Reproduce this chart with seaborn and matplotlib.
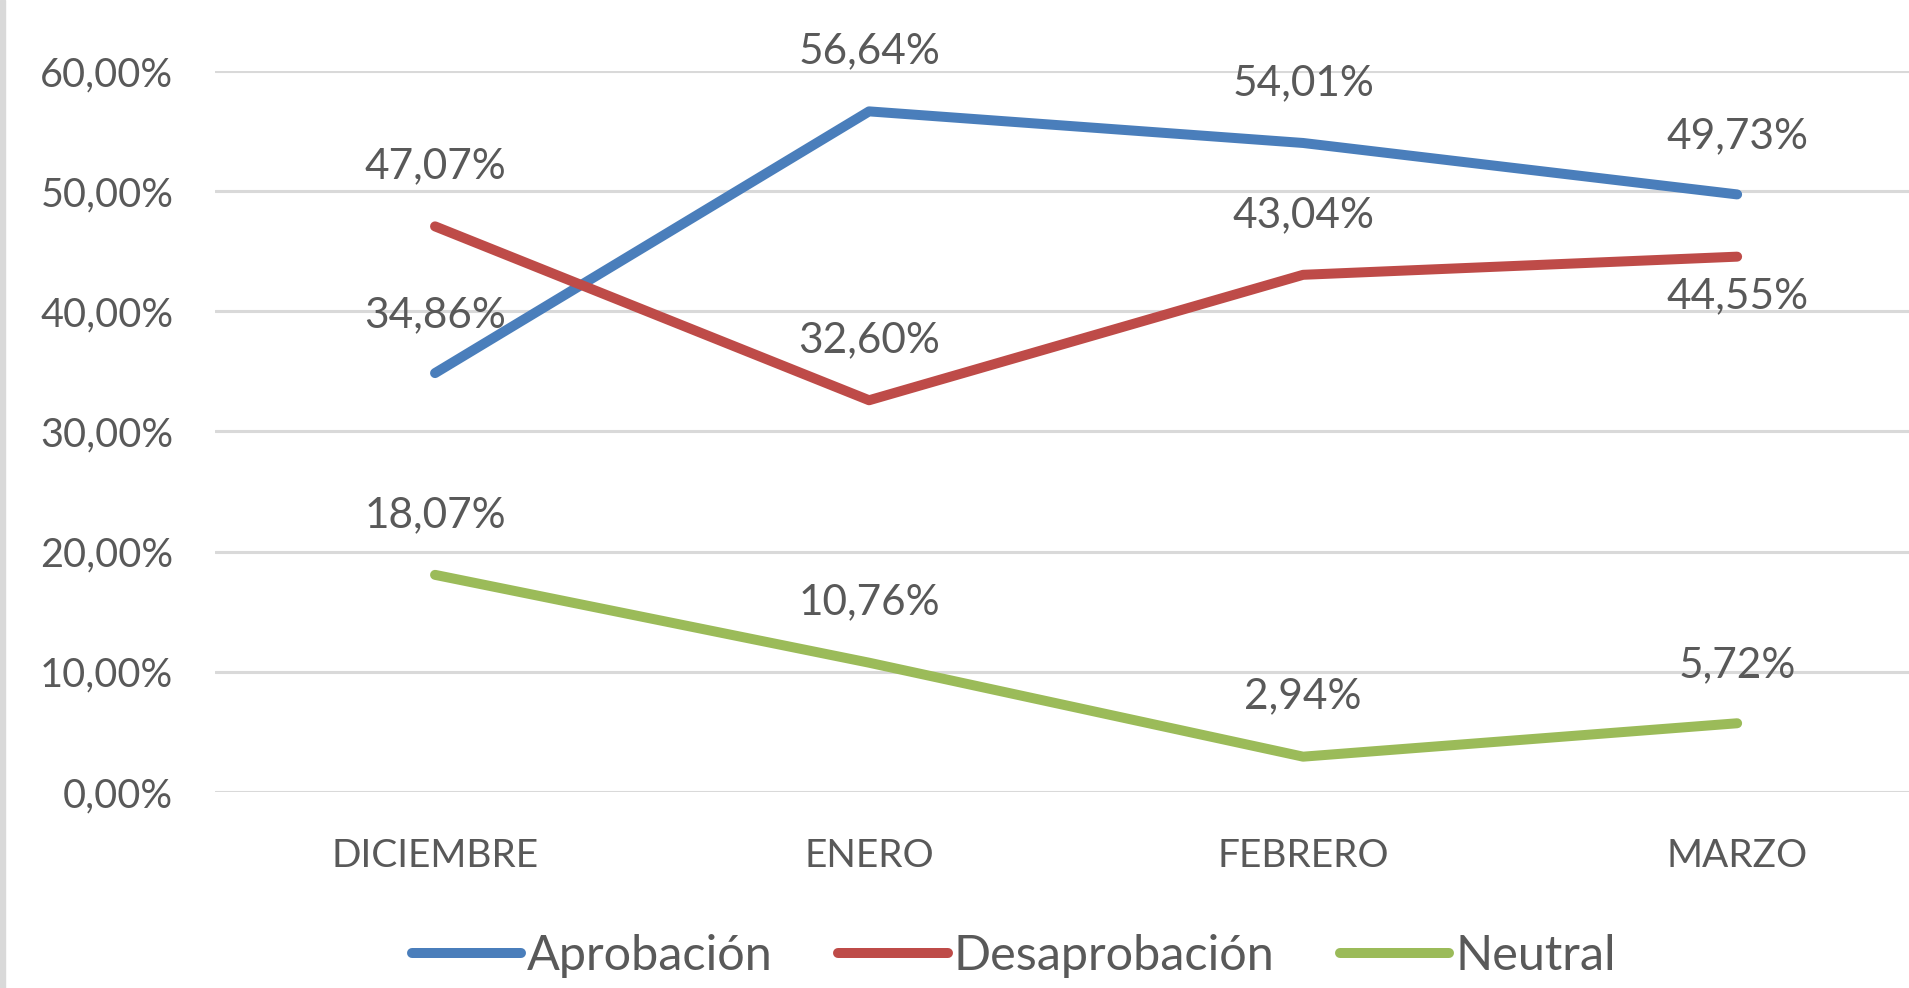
import matplotlib
matplotlib.use("Agg")
import matplotlib.pyplot as plt
import seaborn as sns
import pandas as pd
from matplotlib.lines import Line2D
from matplotlib.patches import Rectangle

months = ["DICIEMBRE", "ENERO", "FEBRERO", "MARZO"]
aprobacion = [34.86, 56.64, 54.01, 49.73]
desaprobacion = [47.07, 32.60, 43.04, 44.55]
neutral = [18.07, 10.76, 2.94, 5.72]
series_names = ["Aprobación", "Desaprobación", "Neutral"]
colors = ["#4A7EBB", "#BE4B48", "#9BBB59"]
yticks = [0, 10, 20, 30, 40, 50, 60]

sns.set_theme(style="white")
plt.rcParams["font.family"] = ["Lato", "DejaVu Sans"]
txt = "#595959"

rows = []
for name, vals in zip(series_names, [aprobacion, desaprobacion, neutral]):
    for i, (m, v) in enumerate(zip(months, vals)):
        rows.append({"pos": i, "mes": m, "valor": v, "serie": name})
df = pd.DataFrame(rows)

fig = plt.figure(figsize=(19.09, 9.88), dpi=100)
ax = fig.add_axes([215/1909, 1-792/988, 1-215/1909, (792-71)/988])

sns.lineplot(data=df, x="pos", y="valor", hue="serie", palette=colors,
             linewidth=7.2, ax=ax, legend=False, sort=False)
for ln in ax.lines:
    ln.set_solid_capstyle("round")
    ln.set_clip_on(False)
    ln.set_zorder(3)

ax.set_xlim(-0.507, 3.396)
ax.set_ylim(0, 60)
ax.set_yticks(yticks)
ax.set_yticklabels([f"{t:.2f}%".replace(".", ",") for t in yticks])
ax.set_xticks(range(len(months)))
ax.set_xticklabels(months)
ax.tick_params(axis="y", labelsize=28.5, colors=txt, length=0, pad=30)
ax.tick_params(axis="x", labelsize=28, colors=txt, length=0, pad=33)
ax.set_xlabel("")
ax.set_ylabel("")
for s in ax.spines.values():
    s.set_visible(False)
ax.grid(axis="y", color="#D9D9D9", linewidth=2.2)
ax.grid(axis="x", visible=False)
ax.set_axisbelow(True)

# data labels
offsets = {
    "Aprobación": [58, 60, 60, 58],
    "Desaprobación": [60, 60, 60, -40],
    "Neutral": [60, 60, 60, 58],
}
for name, vals in zip(series_names, [aprobacion, desaprobacion, neutral]):
    for i, v in enumerate(vals):
        ax.annotate(f"{v:.2f}%".replace(".", ","), (i, v),
                    xytext=(0, offsets[name][i]), textcoords="offset pixels",
                    ha="center", va="center", fontsize=30.5, color=txt,
                    annotation_clip=False, zorder=4)

handles = [Line2D([0], [0], color=c, linewidth=7.2, solid_capstyle="round") for c in colors]
fig.legend(handles, series_names, loc="center", bbox_to_anchor=(0.531, 1-956/988),
           ncol=3, frameon=False, fontsize=35, handlelength=2.25, handletextpad=0.12,
           columnspacing=1.35, labelcolor=txt)

fig.patches.append(Rectangle((0, 0), 5/1909, 1, transform=fig.transFigure,
                             color="#D9D9D9", zorder=0))

fig.savefig("out.png", dpi=100)
